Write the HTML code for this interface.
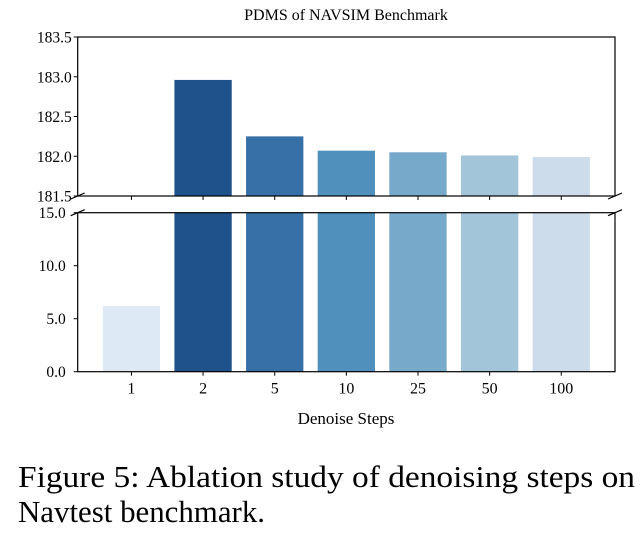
<!DOCTYPE html>
<html><head><meta charset="utf-8"><style>
html,body{margin:0;padding:0;background:#fff;}
svg{display:block;font-family:"Liberation Serif",serif;}
</style></head><body>
<svg id="chart" width="640" height="542" viewBox="0 0 640 542" xmlns="http://www.w3.org/2000/svg">
<text x="346" y="20" font-size="16" text-anchor="middle">PDMS of NAVSIM Benchmark</text>
<g id="bars"></g>
<g id="axes"></g>
<text x="346" y="424" font-size="17" text-anchor="middle">Denoise Steps</text>
<text x="18" y="487" font-size="31" textLength="617" lengthAdjust="spacingAndGlyphs">Figure 5:  Ablation study of denoising steps on</text>
<text x="18" y="522" font-size="31" textLength="247" lengthAdjust="spacingAndGlyphs">Navtest benchmark.</text>
</svg>
<script>
const categories = ["1","2","5","10","25","50","100"];
const values = [6.2, 182.96, 182.25, 182.07, 182.05, 182.01, 181.99];
const colors = ["#dde9f5","#1f528a","#3670a6","#5090bd","#77a9cb","#a3c5d9","#cddcea"];
const topTicks = [181.5, 182.0, 182.5, 183.0, 183.5];
const bottomTicks = [0, 5, 10, 15];
const NS="http://www.w3.org/2000/svg";
const L=77.7,R=615,TT=37,TB=196,BT=212.7,BB=371.7;
const topMin=181.5,topMax=183.5,botMin=0,botMax=15;
function x(i){return L+(i+0.75)/7.5*(R-L);}
function yTop(v){return TB-(v-topMin)/(topMax-topMin)*(TB-TT);}
function yBot(v){return BB-(v-botMin)/(botMax-botMin)*(BB-BT);}
const bw=0.8/7.5*(R-L);
function mk(tag,attrs,parent){const e=document.createElementNS(NS,tag);for(const k in attrs)e.setAttribute(k,attrs[k]);parent.appendChild(e);return e;}
const gb=document.getElementById('bars'),ga=document.getElementById('axes');
values.forEach((v,i)=>{
  const bt=Math.max(yBot(Math.min(v,botMax)),BT);
  const r1=mk('rect',{x:x(i)-bw/2,y:bt,width:bw,height:BB-bt,fill:colors[i]},gb);
  
  
  if(v>topMin){
    const tt=Math.max(yTop(Math.min(v,topMax)),TT);
    const r2=mk('rect',{x:x(i)-bw/2,y:tt,width:bw,height:TB-tt,fill:colors[i]},gb);
    
    
  }
});
const f1=mk('rect',{x:L,y:TT,width:R-L,height:TB-TT,fill:'none',stroke:'#000','stroke-width':1.2},ga);


const f2=mk('rect',{x:L,y:BT,width:R-L,height:BB-BT,fill:'none',stroke:'#000','stroke-width':1.2},ga);


[[L,TB],[R,TB],[L,BT],[R,BT]].forEach(p=>{
  const b=mk('line',{x1:p[0]-7,y1:p[1]+3,x2:p[0]+7,y2:p[1]-3,stroke:'#000','stroke-width':1.2},ga);
  
  
});
topTicks.forEach(t=>{
  const y=yTop(t);
  mk('line',{x1:L-4,y1:y,x2:L,y2:y,stroke:'#000'},ga);
  const tx=mk('text',{x:L-6,y:y+5.5,'font-size':15.5,'text-anchor':'end'},ga);
  tx.textContent=t.toFixed(1);
  
  
});
bottomTicks.forEach(t=>{
  const y=yBot(t);
  mk('line',{x1:L-4,y1:y,x2:L,y2:y,stroke:'#000'},ga);
  const tx=mk('text',{x:L-12,y:y+5.5,'font-size':15.5,'text-anchor':'end'},ga);
  tx.textContent=t.toFixed(1);
  
  
});
categories.forEach((c,i)=>{
  mk('line',{x1:x(i),y1:TB,x2:x(i),y2:TB+4,stroke:'#000'},ga);
  mk('line',{x1:x(i),y1:BB,x2:x(i),y2:BB+4,stroke:'#000'},ga);
  const tx=mk('text',{x:x(i),y:BB+22,'font-size':16,'text-anchor':'middle'},ga);
  tx.textContent=c;
  
  
});
</script>
</body></html>
